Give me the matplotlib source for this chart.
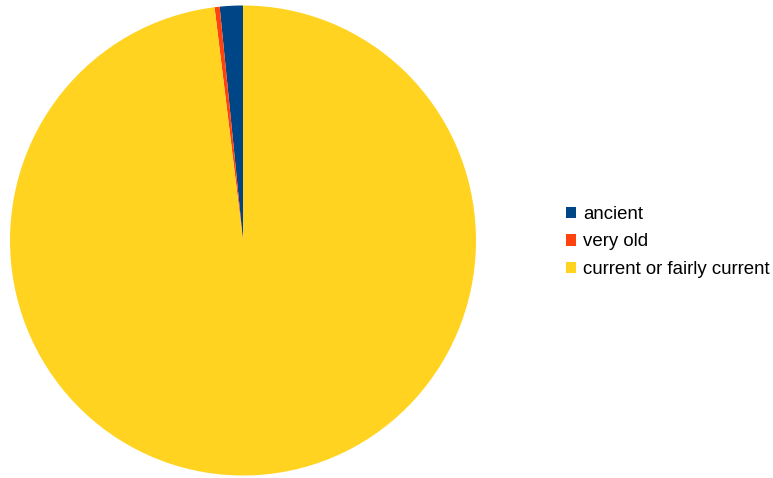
import matplotlib
matplotlib.use("Agg")
import matplotlib.pyplot as plt
from matplotlib.patches import Patch

labels = ["ancient", "very old", "current or fairly current"]
values = [1.6, 0.35, 98.05]
colors = ["#004586", "#ff420e", "#ffd320"]

plt.rcParams["font.family"] = ["Liberation Sans", "DejaVu Sans"]

fig = plt.figure(figsize=(7.73, 4.78), dpi=100)
ax = fig.add_axes([10 / 773, 2.5 / 478, 466 / 773, 470 / 478])
ax.pie(values, colors=colors, startangle=90, counterclock=True,
       wedgeprops=dict(linewidth=0))
ax.set_xlim(-1, 1)
ax.set_ylim(-1, 1)
ax.set_aspect("auto")

handles = [Patch(facecolor=c, edgecolor="none") for c in colors]
fig.legend(handles, labels, loc="center left", bbox_to_anchor=(566 / 773, 1 - 242 / 478),
           frameon=False, fontsize=13.4, handlelength=0.55, handleheight=0.55,
           handletextpad=0.35, labelspacing=0.57, borderpad=0, borderaxespad=0)

fig.savefig("out.png", dpi=100)
